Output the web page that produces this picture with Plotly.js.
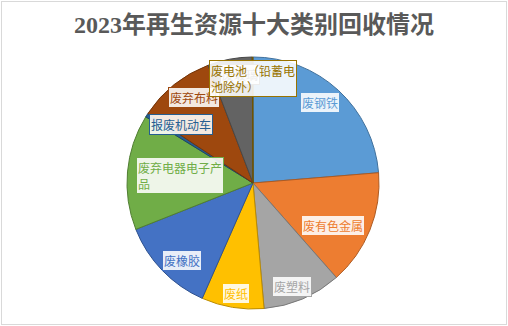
<!DOCTYPE html>
<html>
<head>
<meta charset="utf-8">
<script src="https://cdn.plot.ly/plotly-3.0.1.min.js"></script>
<style>
html,body{margin:0;padding:0;background:#fff;}
#wrap{position:relative;width:508px;height:326px;}
#chart{width:508px;height:326px;}
#frame{position:absolute;left:1px;top:1px;width:504px;height:322px;border:1px solid #d9d9d9;pointer-events:none;}
</style>
</head>
<body>
<div id="wrap"><div id="chart"></div><div id="frame"></div></div>
<script>
// Data (share of recycling, %)
const categories = ['废钢铁','废有色金属','废塑料','废纸','废橡胶','废弃电器电子产品','报废机动车','废弃布料','废玻璃','废电池（铅蓄电池除外）'];
const values = [23.7, 14.8, 10.1, 8.0, 12.4, 14.8, 0.5, 9.9, 5.7, 0.1];
const labelTexts = ['废钢铁','废有色金属','废塑料','废纸','废橡胶','废弃电器电子产<br>品','报废机动车','废弃布料','废玻璃','废电池（铅蓄电<br>池除外）'];

// Style
const colors = ['#5B9BD5','#ED7D31','#A5A5A5','#FFC000','#4472C4','#70AD47','#255E91','#9E480E','#636363','#997300'];
const lineColors = ['#41719C','#AE5A21','#787878','#BC8C00','#2F528F','#507E32','#1B4469','#733409','#484848','#705400'];
// label centres in pixels (x, y from top)
const labelPos = [[320,103],[333,225],[292,286],[236,293],[182,260.5],[179.5,175],[180.7,124.7],[194,97.7],[240,74],[253,79]];

const W = 508, H = 326;
const cx = 253, cy = 183, r = 126;

const annotations = categories.map((c,i)=>({
  text: labelTexts[i],
  xref:'paper', yref:'paper',
  x: labelPos[i][0]/W, y: 1 - labelPos[i][1]/H,
  xanchor:'center', yanchor:'middle',
  showarrow:false,
  align:'left',
  font:{family:'Noto Sans CJK SC, sans-serif', size:12, color:colors[i]},
  bgcolor:'rgba(255,255,255,0.88)',
  bordercolor:colors[i], borderwidth:1, borderpad:1
}));

const trace = {
  type:'pie',
  labels: categories,
  values: values,
  sort:false,
  direction:'clockwise',
  rotation:0,
  textinfo:'none',
  hoverinfo:'label+percent',
  marker:{colors:colors, line:{color:lineColors, width:1}},
  domain:{x:[(cx-r)/W,(cx+r)/W], y:[1-(cy+r)/H, 1-(cy-r)/H]},
  showlegend:false
};

const layout = {
  width:W, height:H,
  margin:{l:0,r:0,t:0,b:0},
  paper_bgcolor:'#fff',
  title:{text:'2023年再生资源十大类别回收情况', x:0.5, xanchor:'center', y:1-25/H, yanchor:'middle',
    font:{family:'Liberation Serif, Noto Sans CJK SC, serif', size:24, color:'#595959', weight:'bold'}},
  annotations: annotations,
  showlegend:false
};

Plotly.newPlot('chart',[trace],layout,{displayModeBar:false,staticPlot:true});
</script>
</body>
</html>
